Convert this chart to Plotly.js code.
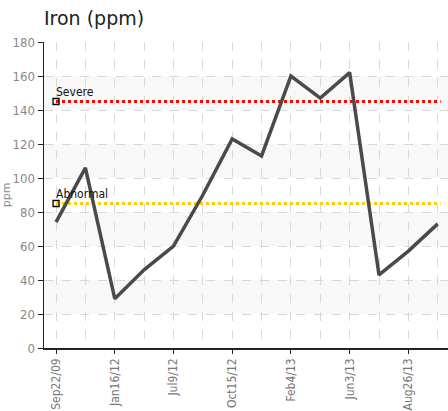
<!DOCTYPE html>
<html><head><meta charset="utf-8">
<script src="https://cdn.plot.ly/plotly-3.0.1.min.js"></script>
<style>html,body{margin:0;padding:0;background:#fff}#chart{width:448px;height:411px}</style>
</head><body><div id="chart"></div>
<script>
var dates = ["Sep22/09","","Jan16/12","","Jul9/12","","Oct15/12","","Feb4/13","","Jun3/13","","Aug26/13",""];
var iron = [74, 106, 29, 46, 60, 90, 123, 113, 160, 147, 162, 43, 57, 73];
var severeLevel = 145;
var abnormalLevel = 85;
var idx = dates.map(function(d,i){return i;});
var tickIdx = idx.filter(function(i){return dates[i] !== "";});
var tickText = tickIdx.map(function(i){return dates[i];});
var last = idx.length - 1;

var shapes = [];
for (var b = 20; b < 180; b += 40) {
  shapes.push({type:'rect', xref:'paper', yref:'y', x0:0, x1:1, y0:b, y1:b+20,
    fillcolor:'#f8f8f8', line:{width:0}, layer:'below'});
}

var traces = [
  {x:[0,last+0.1], y:[severeLevel,severeLevel], mode:'lines', line:{color:'#ff0000', width:3, dash:'dot'}, hoverinfo:'skip'},
  {x:[0,last+0.1], y:[abnormalLevel,abnormalLevel], mode:'lines', line:{color:'#ffcc00', width:3, dash:'dot'}, hoverinfo:'skip'},
  {x:[0,0], y:[severeLevel,abnormalLevel], mode:'markers', marker:{symbol:'square-open', size:6, color:'#000', line:{width:1.3}}},
  {x:idx, y:iron, mode:'lines', line:{color:'#4a4a4a', width:3.5}}
];

var layout = {
  width:448, height:411,
  margin:{l:44, r:0, t:42, b:63},
  paper_bgcolor:'#fff', plot_bgcolor:'#fff',
  showlegend:false,
  title:{text:'Iron (ppm)', x:0, xref:'paper', xanchor:'left', y:0.972, yanchor:'top', font:{family:'DejaVu Sans', size:19, color:'#222'}},
  xaxis:{range:[-0.41, 13.35], tickmode:'array', tickvals:tickIdx, ticktext:tickText, tickangle:-90,
    showline:true, linecolor:'#222', linewidth:1.5, ticks:'outside', ticklen:4, tickcolor:'#222',
    showgrid:true, gridcolor:'#d8d8d8', griddash:'dash', zeroline:false,
    minor:{dtick:1, tick0:1, showgrid:true, gridcolor:'#d8d8d8', griddash:'dash', ticklen:0},
    tickfont:{family:'Liberation Sans Narrow, DejaVu Sans Condensed, sans-serif', size:12, color:'#777'}},
  yaxis:{range:[0,180], dtick:20, showline:true, linecolor:'#222', linewidth:1.5, ticks:'outside', ticklen:5, tickcolor:'#222',
    showgrid:true, gridcolor:'#d8d8d8', griddash:'dash', zeroline:false,
    tickfont:{family:'Liberation Sans Narrow, DejaVu Sans Condensed, sans-serif', size:13, color:'#888'},
    title:{text:'ppm', standoff:6, font:{family:'DejaVu Sans', size:11, color:'#888'}}},
  shapes:shapes,
  annotations:[
    {x:0, y:severeLevel, xref:'x', yref:'y', text:'Severe', showarrow:false, xanchor:'left', yanchor:'bottom', xshift:-2, yshift:1,
      font:{family:'Liberation Sans Narrow, DejaVu Sans Condensed, sans-serif', size:12, color:'#111'}},
    {x:0, y:abnormalLevel, xref:'x', yref:'y', text:'Abnormal', showarrow:false, xanchor:'left', yanchor:'bottom', xshift:-2, yshift:1,
      font:{family:'Liberation Sans Narrow, DejaVu Sans Condensed, sans-serif', size:12, color:'#111'}}
  ]
};
Plotly.newPlot('chart', traces, layout, {displayModeBar:false, staticPlot:true});
</script></body></html>
